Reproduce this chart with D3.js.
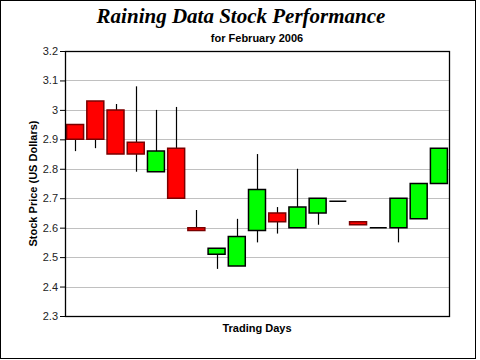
<!DOCTYPE html>
<html>
<head>
<meta charset="utf-8">
<script src="https://cdn.jsdelivr.net/npm/d3@7"></script>
<style>
  html, body { margin: 0; padding: 0; background: #fff; }
  svg { display: block; }
</style>
</head>
<body>
<svg id="chart" width="480" height="360"></svg>
<script>
// Trading days of February 2006
const days = ["1","2","3","6","7","8","9","10","13","14","15","16","17","21","22","23","24","27","28"];
const openValues  = [2.95, 3.03, 3.00, 2.89, 2.79, 2.87, 2.60, 2.51, 2.47, 2.59, 2.65, 2.60, 2.65, 2.69, 2.62, 2.60, 2.60, 2.63, 2.75];
const closeValues = [2.90, 2.90, 2.85, 2.85, 2.86, 2.70, 2.59, 2.53, 2.57, 2.73, 2.62, 2.67, 2.70, 2.69, 2.61, 2.60, 2.70, 2.75, 2.87];
const highValues  = [2.95, 3.03, 3.02, 3.08, 3.00, 3.01, 2.66, 2.53, 2.63, 2.85, 2.67, 2.80, 2.70, 2.69, 2.62, 2.60, 2.70, 2.75, 2.87];
const lowValues   = [2.86, 2.87, 2.85, 2.79, 2.79, 2.70, 2.59, 2.46, 2.47, 2.55, 2.58, 2.60, 2.61, 2.69, 2.61, 2.60, 2.55, 2.63, 2.75];
const yTicks = [2.3, 2.4, 2.5, 2.6, 2.7, 2.8, 2.9, 3.0, 3.1, 3.2];

const title = "Raining Data Stock Performance";
const subtitle = "for February 2006";
const xTitle = "Trading Days";
const yTitle = "Stock Price (US Dollars)";

const data = days.map((d, i) => ({
  day: d, open: openValues[i], close: closeValues[i], high: highValues[i], low: lowValues[i]
}));

const svg = d3.select("#chart");
const plot = { left: 65, right: 449, top: 51, bottom: 316 };

// outer frame
svg.append("rect")
  .attr("x", 0.5).attr("y", 0.5).attr("width", 475).attr("height", 358)
  .attr("fill", "#fff").attr("stroke", "#000").attr("stroke-width", 1);

const x = d3.scaleBand().domain(days).range([plot.left, plot.right])
  .paddingInner(0.16).paddingOuter(0.08);
const y = d3.scaleLinear().domain([2.3, 3.2]).range([plot.bottom, plot.top]);

// gridlines
svg.append("g").selectAll("line")
  .data(yTicks.filter(t => t > 2.3 + 1e-9 && t < 3.2 - 1e-9))
  .join("line")
  .attr("x1", plot.left).attr("x2", plot.right)
  .attr("y1", d => Math.round(y(d)) + 0.5).attr("y2", d => Math.round(y(d)) + 0.5)
  .attr("stroke", "#c0c0c0").attr("stroke-width", 1);

// y axis
const yAxis = svg.append("g")
  .attr("transform", `translate(${plot.left},0)`)
  .call(d3.axisLeft(y).tickValues(yTicks).tickSize(5).tickPadding(2)
    .tickFormat(d => d3.format("~g")(+d.toFixed(1))));
yAxis.select(".domain").remove();
yAxis.selectAll("text")
  .attr("font-family", "Arial, 'Liberation Sans', sans-serif")
  .attr("font-size", 11).attr("fill", "#222");
yAxis.selectAll("line").attr("stroke", "#000");

// candles
const g = svg.append("g");
const candles = g.selectAll("g.candle").data(data).join("g").attr("class", "candle");
candles.append("line")
  .attr("x1", d => Math.round(x(d.day) + x.bandwidth() / 2) + 0.5)
  .attr("x2", d => Math.round(x(d.day) + x.bandwidth() / 2) + 0.5)
  .attr("y1", d => y(d.high)).attr("y2", d => y(d.low))
  .attr("stroke", "#000").attr("stroke-width", 1.2);
candles.append("path")
  .attr("d", d => {
    const x0 = x(d.day), w = x.bandwidth();
    const y0 = y(Math.max(d.open, d.close));
    const h = Math.abs(y(d.open) - y(d.close));
    return `M${x0},${y0}h${w}v${h}h${-w}Z`;
  })
  .attr("fill", d => d.close > d.open ? "#00ff00" : (d.close < d.open ? "#ff0000" : "none"))
  .attr("stroke", d => d.close < d.open ? "#7a0000" : "#000")
  .attr("stroke-width", 1.5);

// plot frame
svg.append("rect")
  .attr("x", plot.left + 0.5).attr("y", plot.top + 0.5)
  .attr("width", plot.right - plot.left).attr("height", plot.bottom - plot.top)
  .attr("fill", "none").attr("stroke", "#000").attr("stroke-width", 1.3);

// titles
svg.append("text")
  .attr("x", 241).attr("y", 23).attr("text-anchor", "middle")
  .attr("font-family", "'Times New Roman', 'Liberation Serif', serif")
  .attr("font-size", 21).attr("font-weight", "bold").attr("font-style", "italic")
  .attr("fill", "#000").text(title);
svg.append("text")
  .attr("x", (plot.left + plot.right) / 2).attr("y", 42).attr("text-anchor", "middle")
  .attr("font-family", "Arial, 'Liberation Sans', sans-serif")
  .attr("font-size", 11).attr("font-weight", "bold")
  .attr("fill", "#000").text(subtitle);
svg.append("text")
  .attr("x", (plot.left + plot.right) / 2).attr("y", 332).attr("text-anchor", "middle")
  .attr("font-family", "Arial, 'Liberation Sans', sans-serif")
  .attr("font-size", 11).attr("font-weight", "bold")
  .attr("fill", "#000").text(xTitle);
svg.append("text")
  .attr("transform", `translate(37,${(plot.top + plot.bottom) / 2}) rotate(-90)`)
  .attr("text-anchor", "middle")
  .attr("font-family", "Arial, 'Liberation Sans', sans-serif")
  .attr("font-size", 11).attr("font-weight", "bold")
  .attr("fill", "#000").text(yTitle);
</script>
</body>
</html>
